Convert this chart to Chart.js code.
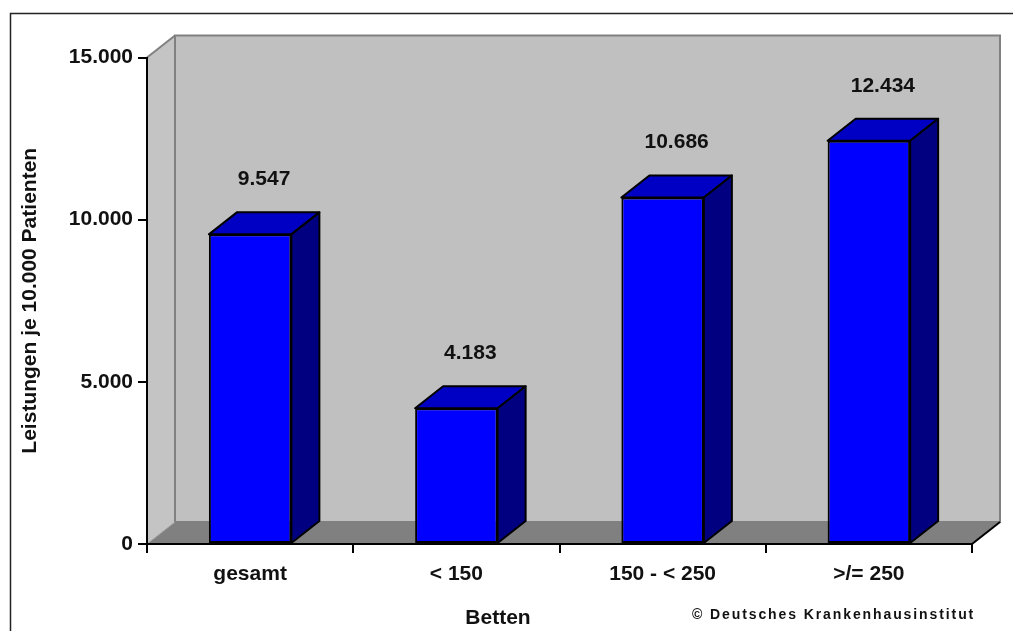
<!DOCTYPE html>
<html>
<head>
<meta charset="utf-8">
<script src="https://cdn.jsdelivr.net/npm/chart.js@4/dist/chart.umd.min.js"></script>
<style>
  html, body { margin: 0; padding: 0; background: #fff; }
  canvas { display: block; }
</style>
</head>
<body>
<canvas id="leistungenChart" width="1013" height="631"></canvas>
<script>
// Daten
const categories = ['gesamt', '< 150', '150 - < 250', '>/= 250'];
const leistungen = [9547, 4183, 10686, 12434];
const yTicks = [0, 5000, 10000, 15000];

const FONT = 'Liberation Sans, Arial, sans-serif';
const depth = { dx: 28, dy: 22 };   // Tiefe der 3D-Darstellung

// Tausenderpunkt wie im Deutschen
function fmt(v) {
    return String(v).replace(/\B(?=(\d{3})+(?!\d))/g, '.');
}

// Rahmen, Rückwand, Seitenwand und Boden
const wallsPlugin = {
    id: 'walls',
    beforeDraw(chart) {
        const c = chart.ctx;
        const { left, right, top, bottom } = chart.chartArea;
        const { dx, dy } = depth;

        c.save();
        c.fillStyle = '#fff';
        c.fillRect(0, 0, chart.width, chart.height);

        c.strokeStyle = '#222';
        c.lineWidth = 1.5;
        c.strokeRect(10.5, 13.5, 1200, 1000);

        // Seitenwand links
        c.fillStyle = '#c4c4c4';
        c.beginPath();
        c.moveTo(left, top);
        c.lineTo(left + dx, top - dy);
        c.lineTo(left + dx, bottom - dy);
        c.lineTo(left, bottom);
        c.closePath();
        c.fill();

        // Rückwand
        c.fillStyle = '#c0c0c0';
        c.fillRect(left + dx, top - dy, right - left, bottom - top);
        c.strokeStyle = '#808080';
        c.lineWidth = 2;
        c.strokeRect(left + dx, top - dy, right - left, bottom - top);

        c.beginPath();
        c.moveTo(left, top);
        c.lineTo(left + dx, top - dy);
        c.stroke();

        // Boden
        c.fillStyle = '#808080';
        c.beginPath();
        c.moveTo(left, bottom);
        c.lineTo(left + dx, bottom - dy);
        c.lineTo(right + dx, bottom - dy);
        c.lineTo(right, bottom);
        c.closePath();
        c.fill();

        c.strokeStyle = '#a0a0a0';
        c.lineWidth = 1;
        c.beginPath();
        c.moveTo(left, bottom);
        c.lineTo(left + dx, bottom - dy);
        c.stroke();

        c.strokeStyle = '#000';
        c.lineWidth = 2;
        c.beginPath();
        c.moveTo(right, bottom);
        c.lineTo(right + dx, bottom - dy);
        c.stroke();
        c.restore();
    },
    // Deckfläche, Seitenfläche und Wertbeschriftung der Säulen
    afterDatasetsDraw(chart) {
        const c = chart.ctx;
        const { dx, dy } = depth;
        const meta = chart.getDatasetMeta(0);

        c.save();
        c.lineWidth = 2;
        c.strokeStyle = '#000';
        c.lineJoin = 'round';
        meta.data.forEach((bar, i) => {
            const l = bar.x - bar.width / 2;
            const r = bar.x + bar.width / 2;
            const y = bar.y;
            const b = bar.base;

            c.fillStyle = '#0000c4';
            c.beginPath();
            c.moveTo(l, y);
            c.lineTo(l + dx, y - dy);
            c.lineTo(r + dx, y - dy);
            c.lineTo(r, y);
            c.closePath();
            c.fill();
            c.stroke();

            c.fillStyle = '#000080';
            c.beginPath();
            c.moveTo(r, y);
            c.lineTo(r + dx, y - dy);
            c.lineTo(r + dx, b - dy);
            c.lineTo(r, b);
            c.closePath();
            c.fill();
            c.stroke();

            c.fillStyle = '#111';
            c.font = 'bold 21px ' + FONT;
            c.textAlign = 'center';
            c.textBaseline = 'middle';
            c.fillText(fmt(leistungen[i]), bar.x + dx / 2, y - 55);
        });
        c.restore();
    },
    afterDraw(chart) {
        const c = chart.ctx;
        c.save();
        c.fillStyle = '#111';
        c.textAlign = 'center';
        c.textBaseline = 'middle';
        c.font = 'bold 21px ' + FONT;
        c.fillText('Betten', 498, 618);

        c.textAlign = 'left';
        c.font = 'bold 14px ' + FONT;
        c.letterSpacing = '1.9px';
        c.fillText('© Deutsches Krankenhausinstitut', 692, 615);
        c.restore();
    }
};

const ctx = document.getElementById('leistungenChart').getContext('2d');

new Chart(ctx, {
    type: 'bar',
    data: {
        labels: categories,
        datasets: [{
            data: leistungen,
            backgroundColor: '#0000ff',
            borderColor: '#000',
            borderWidth: 2,
            borderSkipped: false,
            categoryPercentage: 1,
            barPercentage: 0.4
        }]
    },
    options: {
        responsive: false,
        animation: false,
        layout: { padding: { left: 0, top: 57.5, right: 41, bottom: 0 } },
        plugins: {
            legend: { display: false },
            tooltip: { enabled: false }
        },
        scales: {
            x: {
                afterFit(scale) { scale.height = 87; },
                grid: {
                    offset: true,
                    drawOnChartArea: false,
                    drawTicks: true,
                    tickLength: 9,
                    color: '#000',
                    lineWidth: 2
                },
                border: { color: '#000', width: 2 },
                ticks: {
                    color: '#111',
                    padding: 9,
                    font: { family: FONT, size: 21, weight: 'bold' }
                }
            },
            y: {
                min: 0,
                max: 15000,
                afterFit(scale) { scale.width = 147; },
                afterBuildTicks(scale) {
                    scale.ticks = yTicks.map(v => ({ value: v }));
                },
                grid: {
                    drawOnChartArea: false,
                    drawTicks: true,
                    tickLength: 9,
                    color: '#000',
                    lineWidth: 2
                },
                border: { color: '#000', width: 2 },
                ticks: {
                    color: '#111',
                    padding: 5,
                    font: { family: FONT, size: 21, weight: 'bold' },
                    callback: v => fmt(v)
                },
                title: {
                    display: true,
                    text: 'Leistungen je 10.000 Patienten',
                    color: '#111',
                    padding: { top: 18, bottom: 0 },
                    font: { family: FONT, size: 21, weight: 'bold' }
                }
            }
        }
    },
    plugins: [wallsPlugin]
});
</script>
</body>
</html>
